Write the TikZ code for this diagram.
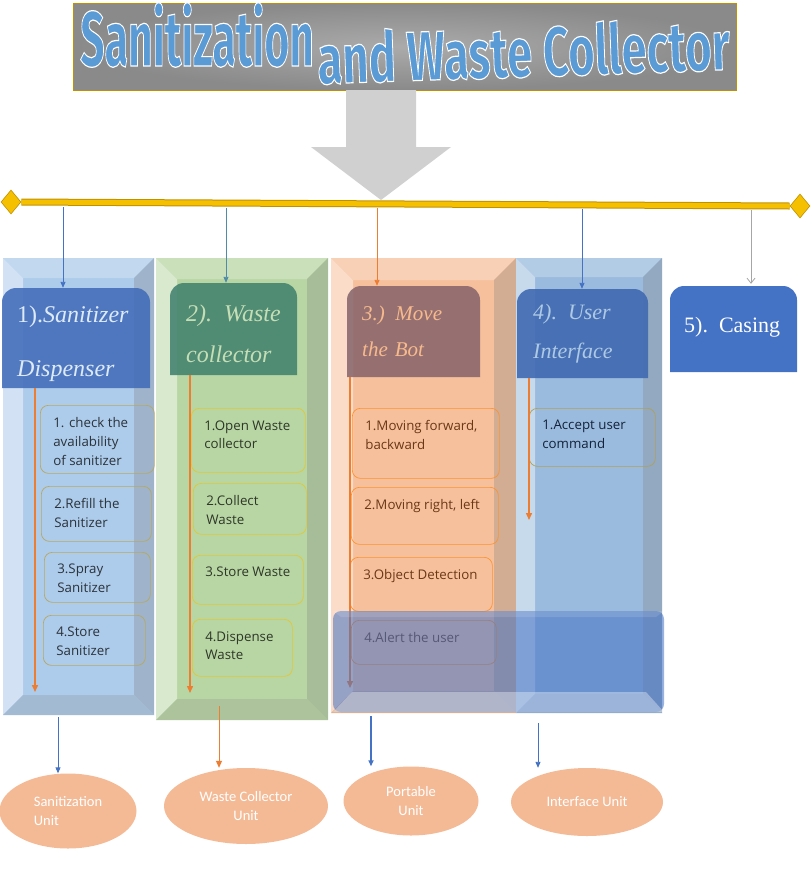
\documentclass[tikz,border=0pt]{standalone}
\usepackage{fontspec}
\usepackage{xcolor}
\usepackage{tikz}
\usetikzlibrary{positioning,arrows.meta,shapes.geometric}
\setmainfont{Liberation Serif}
\newfontfamily\itemfont{Open Sans}
\newfontfamily\unitfont{Carlito}
\newfontfamily\titlefont{Fira Sans}

\definecolor{sanblue}{HTML}{ADCBEA}
\definecolor{wastegreen}{HTML}{B8D6A3}
\definecolor{botpeach}{HTML}{F6C09D}
\definecolor{uiblue}{HTML}{9ABBDD}
\definecolor{accblue}{HTML}{4472C4}
\definecolor{accteal}{HTML}{4E8CA8}
\definecolor{accorange}{HTML}{ED7D31}
\definecolor{gold}{HTML}{F5C000}
\definecolor{darkgold}{HTML}{BF9000}
\definecolor{unitpeach}{HTML}{F4BA96}
\definecolor{wordblue}{HTML}{5B9BD5}
\definecolor{hdteal}{HTML}{3E7F6C}
\definecolor{hdmauve}{HTML}{7E5C66}

\tikzset{
  flowb/.style={-{Triangle[length=6pt,width=5pt]}, line width=0.9pt, draw=accblue},
  flowo/.style={-{Triangle[length=7pt,width=6pt]}, line width=1.4pt, draw=accorange}
}

% bevelled column: x1,y1,x2,y2,inset,colour
\newcommand{\bevelcol}[6]{%
  \fill[#6] (#1,#2) rectangle (#3,#4);
  \fill[#6!75!white] (#1,#2) -- (#3,#2) -- (#3-#5,#2+#5) -- (#1+#5,#2+#5) -- cycle;
  \fill[#6!55!white] (#1,#2) -- (#1+#5,#2+#5) -- (#1+#5,#4-#5) -- (#1,#4) -- cycle;
  \fill[#6!70!gray] (#3,#2) -- (#3,#4) -- (#3-#5,#4-#5) -- (#3-#5,#2+#5) -- cycle;
  \fill[#6!78!gray] (#1,#4) -- (#3,#4) -- (#3-#5,#4-#5) -- (#1+#5,#4-#5) -- cycle;
}
% header with rounded top corners: x1,y1,x2,y2,style
\newcommand{\hdshape}[5]{%
  \fill[#5] (#1,#2+40) [rounded corners=14pt] -- (#1,#2) -- (#3,#2) -- (#3,#2+40)
    [sharp corners] -- (#3,#4) -- (#1,#4) -- cycle;
}
\newcommand{\itm}[3]{\parbox[b][#2pt][t]{#1pt}{\raggedright #3}}
% outlined word art text
\newcommand{\wordart}[2]{\scalebox{#1}[1]{\special{pdf:literal direct 2 Tr 1.2 w 1 1 1 RG}#2\special{pdf:literal direct 0 Tr}}}

\begin{document}
\begin{tikzpicture}[
    x=1pt, y=-1pt,
    item/.style={draw, rounded corners=8pt, anchor=north west, inner xsep=13pt,
      inner ysep=12pt, line width=0.7pt, font=\itemfont\fontsize{13.3}{18.8}\selectfont},
    hdtext/.style={anchor=west, align=left, inner xsep=15pt, inner ysep=0pt},
    unit/.style={ellipse, fill=unitpeach, text=white, inner sep=0pt, align=center,
      font=\unitfont\fontsize{14.5}{19}\selectfont},
    tipdiamond/.style={diamond, fill=gold, draw=darkgold, line width=0.6pt,
      minimum width=20pt, minimum height=24pt, inner sep=0pt, aspect=0.83},
    wordart/.style={anchor=base west, inner sep=0pt, text=wordblue}
  ]
  \useasboundingbox (0,0) rectangle (811,871);

  % title
  \node[draw=darkgold, line width=1pt, inner color=gray!66, outer color=gray!92,
    minimum width=663pt, minimum height=87pt] (title) at (404.5,46.5) {};
  \node[wordart, font=\titlefont\bfseries\fontsize{78}{78}\selectfont] (tw1) at (80,66) {\wordart{0.548}{Sanitization}};
  \node[wordart, rotate=2, font=\titlefont\bfseries\fontsize{70}{70}\selectfont] (tw2) at (318,84) {\wordart{0.65}{and Waste Collector}};

  % big down arrow and gold bar
  \fill[gray!37] (346,90) -- (416,90) -- (416,147) -- (451,147) -- (381,200)
    -- (311,147) -- (346,147) -- cycle;
  \node[tipdiamond] (dl) at (11,202) {};
  \node[tipdiamond] (dr) at (800,206) {};
  \draw[draw=darkgold, line width=1pt, double=gold, double distance=5pt] (dl.east) -- (dr.west);

  % columns
  \bevelcol{3}{258}{154}{715}{20}{sanblue}
  \bevelcol{156}{258}{328}{720}{21}{wastegreen}
  \bevelcol{331}{258}{516}{713}{22}{botpeach}
  \bevelcol{516}{258}{662}{713}{19}{uiblue}

  % headers
  \hdshape{2}{288}{150}{388}{fill=accblue!95!black, fill opacity=0.88}
  \hdshape{170}{283}{297}{375}{fill=hdteal, fill opacity=0.85}
  \hdshape{347}{286}{480}{377}{fill=hdmauve, fill opacity=0.8}
  \hdshape{517}{289}{648}{378}{fill=accblue!90!black, fill opacity=0.88}
  \hdshape{670}{286}{797}{372}{fill=accblue}
  \node[hdtext, minimum height=100pt, text width=130pt, text height=28pt, text=sanblue!40!white,
    font=\fontsize{24}{54}\selectfont] (h1) at (2,338) {1).\textit{Sanitizer}\\\textit{Dispenser}};
  \node[hdtext, minimum height=92pt, text width=110pt, text height=26pt, text=wastegreen!80!white, inner xsep=16pt,
    font=\fontsize{24}{41}\selectfont\itshape] (h2) at (170,329) {2). Waste\\collector};
  \node[hdtext, minimum height=91pt, text width=110pt, text=botpeach!90!orange,
    font=\fontsize{21}{36}\selectfont\itshape] (h3) at (347,331.5) {3.) Move\\the Bot};
  \node[hdtext, minimum height=89pt, text width=110pt, text=uiblue!80!white, inner xsep=16pt,
    font=\fontsize{22}{39}\selectfont\itshape] (h4) at (517,333.5) {4). User\\Interface};
  \node[hdtext, minimum height=86pt, text width=110pt, text=white, inner xsep=14pt,
    font=\fontsize{22}{26}\selectfont] (h5) at (670,327) {5). Casing};

  % feeds from the bar
  \coordinate (b1) at (63,207);
  \coordinate (b2) at (226,208);
  \coordinate (b3) at (377,208);
  \coordinate (b4) at (582,209);
  \coordinate (b5) at (751,210);
  \draw[flowb] (b1) -- (b1 |- h1.north);
  \draw[flowb, draw=accteal] (b2) -- (b2 |- h2.north);
  \draw[flowb, draw=accorange] (b3) -- (b3 |- h3.north);
  \draw[flowb] (b4) -- (b4 |- h4.north);
  \draw[-{Straight Barb[length=5pt,width=8pt]}, line width=0.8pt, draw=gray!70] (b5) -- (b5 |- h5.north);

  % steps of each unit
  \node[item, draw=darkgold!60!sanblue, text=black!75!sanblue] (s1) at (40,405) {\itm{88}{44}{1. check the\\availability\\of sanitizer}};
  \node[item, draw=darkgold!60!sanblue, text=black!75!sanblue] (s2) at (41,486) {\itm{84}{31}{2.Refill the\\Sanitizer}};
  \node[item, draw=darkgold!60!sanblue, text=black!75!sanblue] (s3) at (44,552) {\itm{80}{26}{3.Spray\\Sanitizer}};
  \node[item, draw=darkgold!60!sanblue, text=black!75!sanblue] (s4) at (43,615) {\itm{76}{26}{4.Store\\Sanitizer}};
  \node[item, draw=gold!70!wastegreen, text=black!75!wastegreen] (w1) at (191,408) {\itm{88}{40}{1.Open Waste\\collector}};
  \node[item, draw=gold!70!wastegreen, text=black!75!wastegreen] (w2) at (193,483) {\itm{87}{27}{2.Collect\\Waste}};
  \node[item, draw=gold!70!wastegreen, text=black!75!wastegreen] (w3) at (192,555) {\itm{85}{25}{3.Store Waste}};
  \node[item, draw=gold!70!wastegreen, text=black!75!wastegreen] (w4) at (192,619) {\itm{74}{33}{4.Dispense\\Waste}};
  \node[item, draw=orange!70!botpeach, text=accorange!45!black] (m1) at (352,408) {\itm{121}{46}{1.Moving forward,\\backward}};
  \node[item, draw=orange!70!botpeach, text=accorange!45!black] (m2) at (351,487) {\itm{121}{33}{2.Moving right, left}};
  \node[item, draw=orange!70!botpeach, text=accorange!45!black] (m3) at (350,557) {\itm{116}{30}{3.Object Detection}};
  \node[item, draw=orange!70!botpeach, text=accorange!45!black] (m4) at (351,620) {\itm{119}{20}{4.Alert the user}};
  \node[item, draw=darkgold!60!uiblue, text=black!70!accblue] (i1) at (529,408) {\itm{100}{34}{1.Accept user\\command}};

  % flow inside the columns
  \coordinate (o1) at (35,692);
  \coordinate (o2) at (190,693);
  \coordinate (o3) at (350,688);
  \coordinate (o4) at (529,520);
  \draw[flowo] (o1 |- h1.south) -- (o1);
  \draw[flowo] (o2 |- h2.south) -- (o2);
  \draw[flowo] (o3 |- h3.south) -- (o3);
  \draw[flowo] (o4 |- h4.south) -- (o4);

  % blue glass band
  \fill[accblue, fill opacity=0.55, rounded corners=8pt] (333,611) rectangle (664,712);
  \fill[white, fill opacity=0.35] (333,712) -- (352,692) -- (646,692) -- (664,712) -- cycle;
  \fill[white, fill opacity=0.12] (333,611) -- (664,611) -- (656,617) -- (341,617) -- cycle;

  % units
  \node[unit, minimum width=137pt, minimum height=75pt, align=left] (e1) at (68,811) {Sanitization\\Unit};
  \node[unit, minimum width=164pt, minimum height=76pt] (e2) at (246,806) {Waste Collector\\Unit};
  \node[unit, minimum width=135pt, minimum height=69pt] (e3) at (411,801) {Portable\\Unit};
  \node[unit, minimum width=152pt, minimum height=68pt] (e4) at (587,802) {Interface Unit};
  \coordinate (u1) at (58,717);
  \coordinate (u2) at (219,706);
  \coordinate (u3) at (371,716);
  \coordinate (u4) at (538,723);
  \draw[flowb] (u1) -- (u1 |- e1.north);
  \draw[flowo, line width=1pt] (u2) -- (u2 |- e2.north);
  \draw[flowb, line width=1.6pt] (u3) -- (u3 |- e3.north);
  \draw[flowb] (u4) -- (u4 |- e4.north);

\end{tikzpicture}
\end{document}
